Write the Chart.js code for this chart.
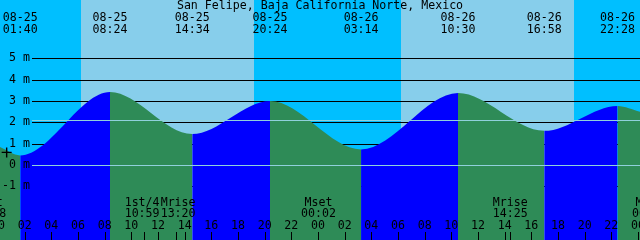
<!DOCTYPE html>
<html>
<head>
<meta charset="utf-8">
<script src="https://cdn.jsdelivr.net/npm/chart.js@4"></script>
<style>
  html, body { margin: 0; padding: 0; background: #fff; }
  canvas { display: block; }
</style>
</head>
<body>
<canvas id="tide" width="640" height="240"></canvas>
<script>
const title = 'San Felipe, Baja California Norte, Mexico';

// high and low tides
const tideStamps = ['08-25 01:40', '08-25 08:24', '08-25 14:34', '08-25 20:24', '08-26 03:14', '08-26 10:30', '08-26 16:58', '08-26 22:28'];
const tideLevels = [0.45, 3.42, 1.45, 3.0, 0.73, 3.37, 1.6, 2.77];
// where the curve leaves the picture on each side
const edgeStamps = ['08-25 00:09', '08-27 00:09'];
const edgeLevels = [0.84, 2.5];
// the "+" marker
const nowStamp = '08-25 00:39';
const nowLevel = 0.59;

const sunStamps = ['08-25 06:13', '08-25 19:12', '08-26 06:13', '08-26 19:12'];

const moonNames = ['Mset', '1st/4', 'Mrise', 'Mset', 'Mrise', 'Mset'];
const moonStamps = ['08-24 23:18', '08-25 10:59', '08-25 13:20', '08-26 00:02', '08-26 14:25', '08-27 00:52'];

const depthLevels = [-1, 0, 1, 2, 3, 4, 5];
const datumLevel = 0;
const meanLevel = 2.1;

const NIGHT = '#00bfff';
const DAY = '#87ceeb';
const FLOOD = '#0000ff';
const EBB = '#2e8b57';
const PALE = '#90d0dc';
const FONT = "11.6px 'DejaVu Sans Mono', 'Liberation Mono', monospace";

function toHours(s) {
  const [md, hm] = s.split(' ');
  const day = Number(md.slice(3));
  const [h, m] = hm.split(':').map(Number);
  return (day - 25) * 24 + h + m / 60;
}

const curve = [];
curve.push({ x: toHours(edgeStamps[0]), y: edgeLevels[0] });
tideStamps.forEach((s, i) => curve.push({ x: toHours(s), y: tideLevels[i] }));
curve.push({ x: toHours(edgeStamps[1]), y: edgeLevels[1] });

const drawing = {
  id: 'tideDrawing',
  beforeDraw(chart) {
    const { ctx, scales: { x } } = chart;
    ctx.save();
    ctx.fillStyle = NIGHT;
    ctx.fillRect(0, 0, chart.width, chart.height);
    ctx.fillStyle = DAY;
    for (let i = 0; i < sunStamps.length; i += 2) {
      const x0 = Math.round(x.getPixelForValue(toHours(sunStamps[i])));
      const x1 = Math.round(x.getPixelForValue(toHours(sunStamps[i + 1])));
      ctx.fillRect(x0, 0, x1 - x0, chart.height);
    }
    ctx.restore();
  },
  beforeDatasetsDraw(chart) {
    const { ctx, scales: { y } } = chart;
    ctx.save();
    ctx.fillStyle = '#000';
    depthLevels.forEach(v => {
      const py = Math.round(y.getPixelForValue(v));
      ctx.fillRect(32, py, chart.width - 32, 1);
    });
    ctx.restore();
  },
  afterDatasetsDraw(chart) {
    const { ctx, scales: { x, y } } = chart;
    ctx.save();
    // datum and mean level lines on top of the water
    ctx.fillStyle = PALE;
    [datumLevel, meanLevel].forEach(v => {
      const py = Math.round(y.getPixelForValue(v));
      ctx.fillRect(32, py, chart.width - 32, 1);
    });

    ctx.fillStyle = '#000';
    ctx.font = FONT;
    ctx.textBaseline = 'middle';

    // depth labels
    ctx.textAlign = 'right';
    depthLevels.forEach(v => {
      ctx.fillText(v + ' m', 30, y.getPixelForValue(v));
    });

    // title and tide times
    ctx.textAlign = 'center';
    ctx.fillText(title, 320, 6);
    tideStamps.forEach(s => {
      const px = x.getPixelForValue(toHours(s));
      const [md, hm] = s.split(' ');
      ctx.fillText(md, px, 17.5);
      ctx.fillText(hm, px, 29.5);
    });

    // hour ticks
    for (let h = 0; h <= 48; h += 2) {
      const px = x.getPixelForValue(h);
      ctx.fillRect(Math.round(px), 232, 1, 8);
      ctx.fillText(String(h % 24).padStart(2, '0'), px, 225.5);
    }

    // moon events, pushed apart when they collide
    const moon = moonStamps.map((s, i) => ({
      name: moonNames[i],
      time: s.split(' ')[1],
      px: x.getPixelForValue(toHours(s))
    }));
    moon.forEach(m => ctx.fillRect(Math.round(m.px), 232, 1, 8));
    const pos = moon.map(m => m.px);
    for (let i = 1; i < pos.length; i++) {
      const gap = 36 - (pos[i] - pos[i - 1]);
      if (gap > 0) {
        pos[i - 1] -= gap / 2;
        pos[i] += gap / 2;
      }
    }
    moon.forEach((m, i) => {
      ctx.fillText(m.name, pos[i], 202.5);
      ctx.fillText(m.time, pos[i], 213.5);
    });
    ctx.restore();
  }
};

new Chart(document.getElementById('tide'), {
  type: 'line',
  data: {
    datasets: [
      {
        label: 'Tide',
        data: curve,
        fill: 'start',
        borderWidth: 0,
        borderColor: 'rgba(0,0,0,0)',
        backgroundColor: EBB,
        pointRadius: 0,
        cubicInterpolationMode: 'monotone',
        segment: {
          backgroundColor: c => (c.p1.parsed.y > c.p0.parsed.y ? FLOOD : EBB)
        },
        order: 2
      },
      {
        label: 'Now',
        data: [{ x: toHours(nowStamp), y: nowLevel }],
        showLine: false,
        pointStyle: 'cross',
        pointRadius: 5,
        pointBorderWidth: 1.4,
        pointBorderColor: '#000',
        order: 1
      }
    ]
  },
  options: {
    responsive: false,
    devicePixelRatio: 1,
    animation: false,
    layout: { padding: 0, autoPadding: false },
    plugins: {
      legend: { display: false },
      tooltip: { enabled: false }
    },
    scales: {
      x: { type: 'linear', min: toHours(edgeStamps[0]), max: toHours(edgeStamps[1]), display: false },
      y: { min: -3.516, max: 7.734, display: false }
    }
  },
  plugins: [drawing]
});
</script>
</body>
</html>
